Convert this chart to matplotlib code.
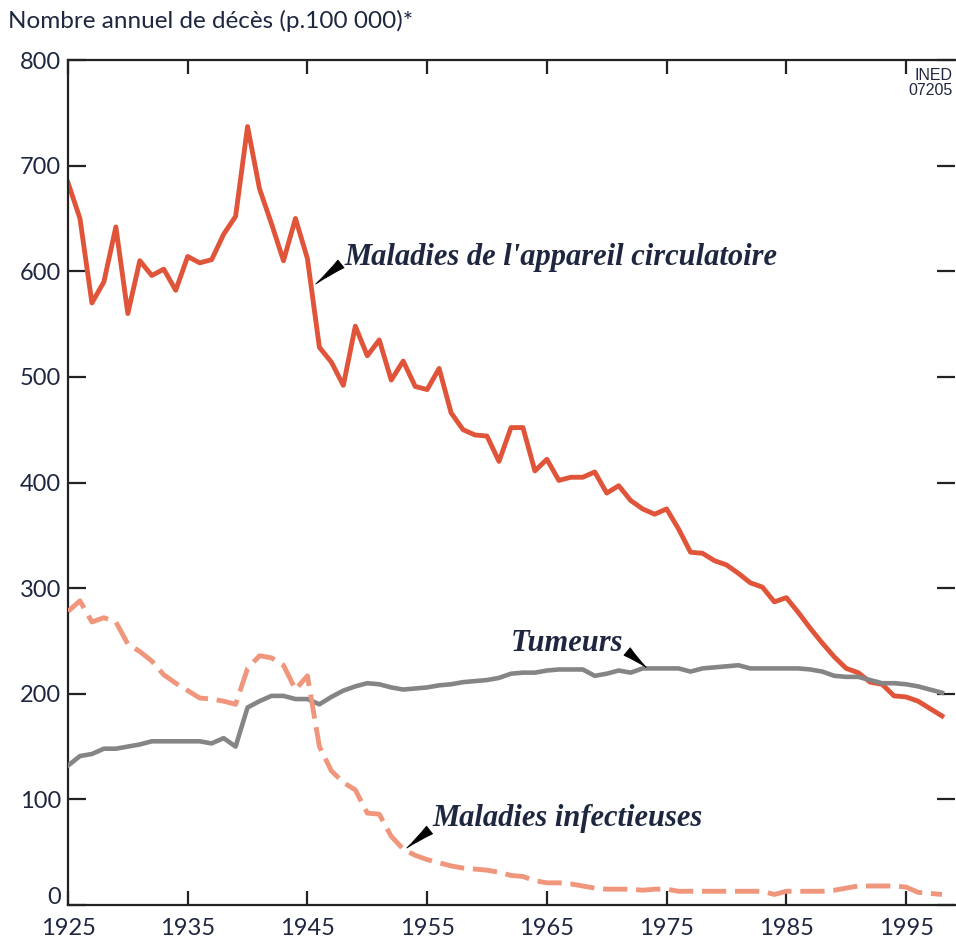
import matplotlib
matplotlib.use("Agg")
import matplotlib.pyplot as plt
import matplotlib.transforms as mtransforms

years = list(range(1925, 1999))

circulatoire = [684, 650, 570, 590, 642, 560, 610, 596, 602, 582,
                614, 608, 611, 635, 652, 737, 678, 645, 610, 650,
                612, 528, 514, 492, 548, 520, 535, 497, 515, 491,
                488, 508, 466, 450, 445, 444, 420, 452, 452, 411,
                422, 402, 405, 405, 410, 390, 397, 383, 375, 370,
                375, 356, 334, 333, 326, 322, 314, 305, 301, 287,
                291, 277, 262, 248, 235, 224, 220, 211, 209, 198,
                197, 193, 186, 179]

tumeurs = [132, 141, 143, 148, 148, 150, 152, 155, 155, 155,
           155, 155, 153, 158, 150, 187, 193, 198, 198, 195,
           195, 190, 197, 203, 207, 210, 209, 206, 204, 205,
           206, 208, 209, 211, 212, 213, 215, 219, 220, 220,
           222, 223, 223, 223, 217, 219, 222, 220, 224, 224,
           224, 224, 221, 224, 225, 226, 227, 224, 224, 224,
           224, 224, 223, 221, 217, 216, 216, 213, 210, 210,
           209, 207, 204, 201]

infectieuses = [278, 288, 268, 272, 268, 247, 240, 231, 218, 210,
                203, 196, 195, 193, 190, 224, 236, 234, 227, 204,
                217, 150, 127, 116, 109, 87, 86, 65, 53, 47,
                43, 40, 37, 35, 34, 33, 31, 28, 27, 23,
                21, 21, 20, 18, 16, 15, 15, 15, 14, 15,
                15, 13, 13, 13, 13, 13, 13, 13, 13, 10,
                13, 13, 13, 13, 14, 16, 18, 18, 18, 18,
                17, 12, 11, 10]

xticks = [1925, 1935, 1945, 1955, 1965, 1975, 1985, 1995]
yticks = [0, 100, 200, 300, 400, 500, 600, 700, 800]

title = "Nombre annuel de décès (p.100 000)*"
lab_circ = "Maladies de l'appareil circulatoire"
lab_tum = "Tumeurs"
lab_inf = "Maladies infectieuses"

RED = "#e0553a"
GRAY = "#858585"
SALMON = "#f0967c"
NAVY = "#1f2740"

fig = plt.figure(figsize=(9.56, 9.44), dpi=100)
ax = fig.add_axes([0.0711, 0.0413, 0.928, 0.8951])

ax.plot(years, circulatoire, color=RED, lw=3.5, zorder=2)
ax.plot(years, tumeurs, color=GRAY, lw=3.3, zorder=3)
ax.plot(years, infectieuses, color=SALMON, lw=3.5, zorder=4,
        dashes=(5.0, 1.8), dash_capstyle="butt")

ax.set_xlim(1925, 1999.1)
ax.set_ylim(0, 800)
ax.set_xticks(xticks)
ax.set_yticks(yticks)

for s in ["left", "bottom", "top"]:
    ax.spines[s].set_linewidth(1.6)
    ax.spines[s].set_color("#222222")
ax.spines["right"].set_visible(False)

ax.tick_params(axis="x", which="both", direction="in", length=10, width=1.6,
               color="#222222", top=True, bottom=True, labelsize=17,
               labelcolor=NAVY, pad=9)
ax.tick_params(axis="y", which="both", direction="in", length=13, width=1.6,
               color="#222222", left=True, right=True, labelsize=17,
               labelcolor=NAVY, pad=5)
for lab in ax.get_xticklabels() + ax.get_yticklabels():
    lab.set_family(["Lato", "DejaVu Sans"])
# lift the "0" label slightly, as in the reference
ylabs = ax.get_yticklabels()
ylabs[0].set_transform(ylabs[0].get_transform() +
                       mtransforms.ScaledTranslation(0, 7 / 72, fig.dpi_scale_trans))

fig.text(0.008, 0.978, title, ha="left", va="center", fontsize=17.5,
         color=NAVY, family=["Lato", "DejaVu Sans"])
ax.text(0.997, 0.99, "INED\n07205", transform=ax.transAxes, ha="right",
        va="top", fontsize=11.5, color=NAVY, linespacing=0.95,
        family=["Liberation Sans Narrow", "Liberation Sans", "DejaVu Sans"])

afont = dict(fontsize=22, fontweight="bold", fontstyle="italic",
             color=NAVY, family=["Liberation Serif", "DejaVu Serif"])
aprops = dict(arrowstyle="wedge,tail_width=0.7,shrink_factor=0.4",
              fc="black", ec="black", lw=0.6, shrinkA=0, shrinkB=0)

ax.text(1948.1, 613, lab_circ, ha="left", va="center", **afont)
ax.annotate("", xy=(1945.7, 588), xytext=(1947.8, 607), arrowprops=aprops)

ax.text(1971.4, 248, lab_tum, ha="right", va="center", **afont)
ax.annotate("", xy=(1973.3, 225), xytext=(1971.7, 240), arrowprops=aprops)

ax.text(1955.4, 82, lab_inf, ha="left", va="center", **afont)
ax.annotate("", xy=(1953.3, 54), xytext=(1955.2, 71), arrowprops=aprops)

fig.savefig("out.png", dpi=100)
